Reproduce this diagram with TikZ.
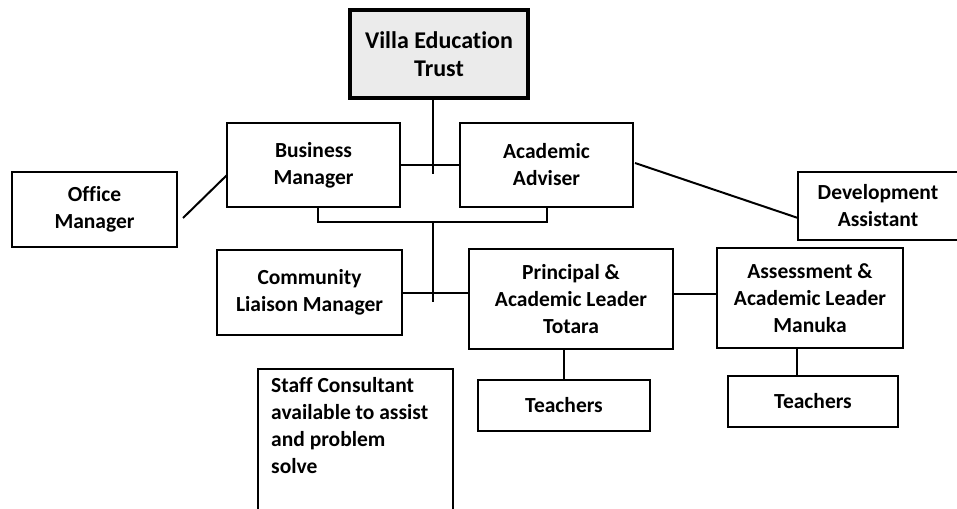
\documentclass[tikz,border=0pt]{standalone}
\usepackage{fontspec}
\setmainfont[Ligatures=NoCommon]{Carlito}
\begin{document}
\begin{tikzpicture}[x=1pt,y=-1pt,
  box/.style={draw=black,line width=1.5pt,fill=white,align=center,inner sep=0pt,font=\bfseries\fontsize{21.5}{27}\selectfont},
  conn/.style={draw=black,line width=2pt}]
\useasboundingbox (0,0) rectangle (957,508);
\begin{scope}
\clip (0,0) rectangle (957,508);
\node[box,line width=3.5pt,fill=black!8,minimum width=178pt,minimum height=88pt,font=\bfseries\fontsize{24}{28}\selectfont] (trust) at (439,54) {Villa Education\\Trust};
\node[box,minimum width=173pt,minimum height=84pt] (bm) at (313.5,165) {Business\\Manager};
\node[box,minimum width=173pt,minimum height=84pt] (aa) at (546.5,165) {Academic\\Adviser};
\node[box,minimum width=165pt,minimum height=75pt] (om) at (94.5,209.5) {Office\\Manager};
\node[box,minimum width=160pt,minimum height=68pt] (da) at (878,206) {Development\\Assistant};
\node[box,minimum width=185pt,minimum height=85pt] (clm) at (309.5,292.5) {Community\\Liaison Manager};
\node[box,minimum width=204pt,minimum height=100pt] (pr) at (571,299) {Principal \&\\Academic Leader\\Totara};
\node[box,minimum width=186pt,minimum height=100pt] (as) at (810,298) {Assessment \&\\Academic Leader\\Manuka};
\node[box,minimum width=172pt,minimum height=51pt] (t1) at (564,405.5) {Teachers};
\node[box,minimum width=170pt,minimum height=51pt] (t2) at (813,401.5) {Teachers};
\node[box,minimum width=195pt,minimum height=160pt,anchor=north west] (sc) at (257,368) {};
\node[font=\bfseries\fontsize{21.5}{27}\selectfont,align=left,anchor=north west,inner sep=0pt] (sct) at (271,377) {Staff Consultant\\available to assist\\and problem\\solve};
\end{scope}
% connectors
\coordinate (j1) at (433,174);
\coordinate (j2) at (433,222);
\coordinate (j3) at (433,302);
\draw[conn] (trust.south -| j1) -- (j1);
\draw[conn] (bm.east) -- (aa.west);
\draw[conn] ([xshift=4pt]bm.south) |- (j2) -| (aa.south);
\draw[conn] (j2) -- (j3);
\draw[conn] (clm.east) -- (clm.east -| pr.west);
\draw[conn] ([yshift=5pt]pr.east) -- ([yshift=5pt]pr.east -| as.west);
\draw[conn] (t1.north) -- (t1.north |- pr.south);
\draw[conn] ([xshift=-16pt]t2.north) -- ([xshift=-16pt]t2.north |- as.south);
\coordinate (omc) at (183,218);
\coordinate (bmc) at (227,175);
\draw[conn] (omc) -- (bmc);
\coordinate (aac) at (635,163);
\coordinate (dac) at (798,218);
\draw[conn] (aac) -- (dac);
\end{tikzpicture}
\end{document}
